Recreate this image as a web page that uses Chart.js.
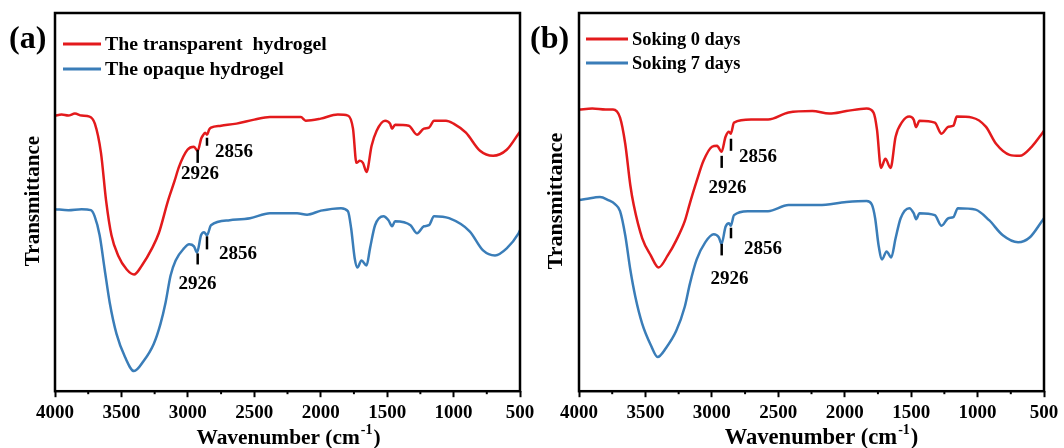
<!DOCTYPE html>
<html>
<head>
<meta charset="utf-8">
<script src="https://cdn.jsdelivr.net/npm/chart.js@4.4.1/dist/chart.umd.min.js"></script>
<style>
html, body { margin: 0; padding: 0; background: #fff; }
#wrap { position: relative; width: 1064px; height: 448px; overflow: hidden; }
canvas { position: absolute; top: 0; }
</style>
</head>
<body>
<div id="wrap">
  <canvas id="chartA" width="545" height="448" style="left:0px"></canvas>
  <canvas id="chartB" width="534" height="448" style="left:530px"></canvas>
</div>
<script>
// x axis ticks (wavenumber, cm-1)
const xTickValues = [4000, 3500, 3000, 2500, 2000, 1500, 1000, 500];
const xMinorTicks = [3750, 3250, 2750, 2250, 1750, 1250, 750];

// panel (a), transparent hydrogel (red)
const redA_wn = [4000, 3950, 3900, 3850, 3800, 3740, 3700, 3654, 3615, 3575, 3525, 3460, 3405, 3346, 3270, 3219, 3150, 3100, 3067, 3003, 2954, 2926, 2900, 2888, 2870, 2856, 2840, 2826, 2750, 2634, 2500, 2382, 2150, 2113, 2000, 1872, 1795, 1757, 1731, 1706, 1682, 1655, 1617, 1579, 1516, 1478, 1463, 1440, 1337, 1275, 1223, 1185, 1147, 1057, 1000, 907, 801, 703, 600, 511, 500];
const redA_t  = [274, 275, 274, 276, 274, 273, 266, 237, 189, 155, 135, 121, 116, 125, 142, 157, 189, 209, 223, 240, 243, 239, 251, 254, 257, 255, 260, 262, 264, 266, 270, 272.5, 272.5, 269, 271, 275, 274, 261, 227, 229, 227, 218, 244, 259, 269, 266, 261, 265, 264, 255, 261, 262, 269, 269, 266, 257, 239, 234, 240, 256, 258];

// panel (a), opaque hydrogel (blue)
const blueA_wn = [4000, 3900, 3800, 3730, 3702, 3664, 3626, 3588, 3537, 3473, 3405, 3333, 3257, 3206, 3168, 3130, 3092, 3029, 2991, 2954, 2931, 2901, 2878, 2856, 2826, 2685, 2532, 2382, 2178, 2103, 1998, 1847, 1795, 1771, 1744, 1724, 1693, 1655, 1629, 1591, 1528, 1490, 1463, 1440, 1324, 1275, 1223, 1185, 1147, 1034, 879, 778, 688, 600, 511, 500];
const blueA_t  = [181, 180, 181, 180, 174, 155, 121, 88, 57, 34, 20, 30, 47, 67, 88, 115, 130, 142, 146, 144, 138, 155, 158, 155, 165, 170, 172, 177, 177, 175.5, 179.5, 182, 179, 162, 132, 123, 130, 125, 142, 165, 174, 170, 164, 169, 165, 157, 164, 165, 174, 172, 159, 140, 135, 142, 157, 160];

// panel (b), soaking 0 days (red)
const redB_wn = [4000, 3900, 3800, 3744, 3691, 3652, 3614, 3588, 3524, 3460, 3401, 3332, 3268, 3204, 3165, 3114, 3063, 2999, 2961, 2927, 2897, 2871, 2858, 2833, 2705, 2577, 2423, 2244, 2116, 1988, 1835, 1783, 1757, 1727, 1694, 1655, 1617, 1566, 1514, 1481, 1463, 1437, 1322, 1271, 1220, 1182, 1156, 1041, 938, 861, 759, 682, 593, 516, 500];
const redB_t  = [280, 281, 280, 280, 272, 246, 205, 185, 152, 135, 123, 135, 150, 169, 187, 209, 229, 243, 244, 238, 253, 258, 256, 267, 270, 270, 277, 278.5, 276, 278.5, 281, 277, 260, 222, 231, 222, 253, 268, 273, 270, 262.5, 269, 267, 256, 263, 264, 273, 272, 263, 246, 235, 234, 243, 256, 259];

// panel (b), soaking 7 days (blue)
const blueB_wn = [4000, 3950, 3842, 3780, 3729, 3691, 3652, 3614, 3576, 3524, 3460, 3408, 3345, 3268, 3204, 3165, 3114, 3050, 2986, 2948, 2927, 2897, 2871, 2858, 2833, 2730, 2577, 2423, 2194, 1988, 1835, 1796, 1771, 1745, 1719, 1685, 1650, 1617, 1579, 1514, 1481, 1463, 1437, 1322, 1271, 1220, 1182, 1148, 1015, 913, 810, 695, 606, 516, 500];
const blueB_t  = [190, 191, 193, 190, 186, 179, 155, 121, 94, 67, 46, 34, 43, 60, 84, 107, 131, 148, 156, 153, 146.5, 163.5, 167, 164.5, 175, 179, 179, 185, 185, 188, 189, 185.6, 172, 145, 131, 139, 133, 152, 172, 182, 177, 171, 177, 175, 164.5, 172, 173, 182, 180.5, 170, 155, 148, 153, 169, 172];

// peak marks: wavenumber, mark top/bottom, label position (data units)
const marksA = [
  { wn: 2926, top: 240, bottom: 227, text: '2926', lx: 2909, ly: 216, align: 'center' },
  { wn: 2856, top: 252, bottom: 244, text: '2856', lx: 2796, ly: 238, align: 'left' },
  { wn: 2926, top: 137, bottom: 126, text: '2926', lx: 2927, ly: 106, align: 'center' },
  { wn: 2856, top: 154, bottom: 141, text: '2856', lx: 2766, ly: 136, align: 'left' }
];
const marksB = [
  { wn: 2926, top: 234, bottom: 222, text: '2926', lx: 2883, ly: 202, align: 'center' },
  { wn: 2856, top: 251, bottom: 239, text: '2856', lx: 2796, ly: 232.5, align: 'left' },
  { wn: 2926, top: 146.5, bottom: 135, text: '2926', lx: 2867, ly: 111, align: 'center' },
  { wn: 2856, top: 162.5, bottom: 152, text: '2856', lx: 2758, ly: 141, align: 'left' }
];

const RED = '#e31a1c';
const BLUE = '#3a7db8';
const SERIF = '"Liberation Serif", "Times New Roman", serif';

function decor(cfg) {
  return {
    id: 'decor',
    afterDraw(chart) {
      const ctx = chart.ctx, ca = chart.chartArea;
      const xs = chart.scales.x, ys = chart.scales.y;
      ctx.save();
      ctx.strokeStyle = '#000';
      ctx.fillStyle = '#000';

      // frame
      ctx.lineWidth = 2.5;
      ctx.strokeRect(ca.left, ca.top, ca.right - ca.left, ca.bottom - ca.top);

      // minor ticks
      ctx.lineWidth = 2;
      xMinorTicks.forEach(v => {
        const x = xs.getPixelForValue(v);
        ctx.beginPath();
        ctx.moveTo(x, ca.bottom);
        ctx.lineTo(x, ca.bottom + 3);
        ctx.stroke();
      });

      // peak marks
      ctx.font = 'bold 19px ' + SERIF;
      ctx.textBaseline = 'middle';
      cfg.marks.forEach(m => {
        const x = xs.getPixelForValue(m.wn);
        ctx.lineWidth = 2.5;
        ctx.beginPath();
        ctx.moveTo(x, ys.getPixelForValue(m.top));
        ctx.lineTo(x, ys.getPixelForValue(m.bottom));
        ctx.stroke();
        ctx.textAlign = m.align;
        ctx.fillText(m.text, xs.getPixelForValue(m.lx), ys.getPixelForValue(m.ly));
      });

      // legend
      ctx.textAlign = 'left';
      ctx.font = 'bold ' + cfg.legendSize + 'px ' + SERIF;
      chart.data.datasets.forEach((ds, i) => {
        const y = cfg.legendY[i];
        ctx.strokeStyle = ds.borderColor;
        ctx.lineWidth = 3;
        ctx.beginPath();
        ctx.moveTo(cfg.legendX, y);
        ctx.lineTo(cfg.legendX + cfg.legendLen, y);
        ctx.stroke();
        ctx.fillText(ds.label, cfg.legendX + cfg.legendLen + 4, y + 1);
      });

      // panel letter
      ctx.font = 'bold 32px ' + SERIF;
      ctx.fillText(cfg.letter, cfg.letterX, 40);

      // y title
      ctx.save();
      ctx.translate(cfg.yTitleX, 201);
      ctx.rotate(-Math.PI / 2);
      ctx.textAlign = 'center';
      ctx.font = 'bold ' + cfg.yTitleSize + 'px ' + SERIF;
      ctx.fillText('Transmittance', 0, 0);
      ctx.restore();

      // x title with superscript
      const big = 'bold ' + cfg.xTitleSize + 'px ' + SERIF;
      const small = 'bold 14px ' + SERIF;
      ctx.textAlign = 'left';
      ctx.font = big;
      const w1 = ctx.measureText('Wavenumber (cm').width;
      const w3 = ctx.measureText(')').width;
      ctx.font = small;
      const w2 = ctx.measureText('-1').width;
      const x0 = (ca.left + ca.right) / 2 + cfg.xTitleShift - (w1 + w2 + w3) / 2;
      const yT = 438;
      ctx.font = big;
      ctx.fillText('Wavenumber (cm', x0, yT);
      ctx.font = small;
      ctx.fillText('-1', x0 + w1 + 1, yT - 8);
      ctx.font = big;
      ctx.fillText(')', x0 + w1 + w2 + 2, yT);
      ctx.restore();
    }
  };
}

function makeChart(id, cfg) {
  return new Chart(document.getElementById(id), {
    type: 'line',
    data: {
      datasets: cfg.series.map(s => ({
        label: s.label,
        data: s.wn.map((w, i) => ({ x: w, y: s.t[i] })),
        borderColor: s.color,
        borderWidth: 2.5,
        pointRadius: 0,
        cubicInterpolationMode: 'monotone',
        fill: false
      }))
    },
    options: {
      responsive: false,
      animation: false,
      devicePixelRatio: 1,
      layout: { padding: { left: cfg.padLeft, right: cfg.padRight, top: 13, bottom: 20 } },
      plugins: { legend: { display: false }, tooltip: { enabled: false } },
      scales: {
        x: {
          type: 'linear', reverse: true, min: 500, max: 4000,
          afterBuildTicks: s => { s.ticks = xTickValues.map(v => ({ value: v })); },
          border: { display: false },
          grid: { display: true, drawOnChartArea: false, drawTicks: true, tickLength: 6, tickWidth: 2, tickColor: '#000' },
          ticks: { padding: 4, color: '#000', maxRotation: 0, autoSkip: false,
                   callback: v => String(v),
                   font: { family: SERIF, size: 19, weight: 'bold' } }
        },
        y: { display: false, min: 0, max: 376 }
      }
    },
    plugins: [decor(cfg)]
  });
}

makeChart('chartA', {
  padLeft: 55, padRight: 25,
  series: [
    { label: 'The transparent  hydrogel', wn: redA_wn, t: redA_t, color: RED },
    { label: 'The opaque hydrogel', wn: blueA_wn, t: blueA_t, color: BLUE }
  ],
  marks: marksA,
  legendX: 63, legendLen: 38, legendY: [44, 69], legendSize: 19.8,
  letter: '(a)', letterX: 9, yTitleX: 34, yTitleSize: 21,
  xTitleSize: 21.4, xTitleShift: 0
});

makeChart('chartB', {
  padLeft: 49, padRight: 20,
  series: [
    { label: 'Soking 0 days', wn: redB_wn, t: redB_t, color: RED },
    { label: 'Soking 7 days', wn: blueB_wn, t: blueB_t, color: BLUE }
  ],
  marks: marksB,
  legendX: 56, legendLen: 42, legendY: [39, 63], legendSize: 18.4,
  letter: '(b)', letterX: 0, yTitleX: 26, yTitleSize: 22,
  xTitleSize: 22.6, xTitleShift: 9
});
</script>
</body>
</html>
